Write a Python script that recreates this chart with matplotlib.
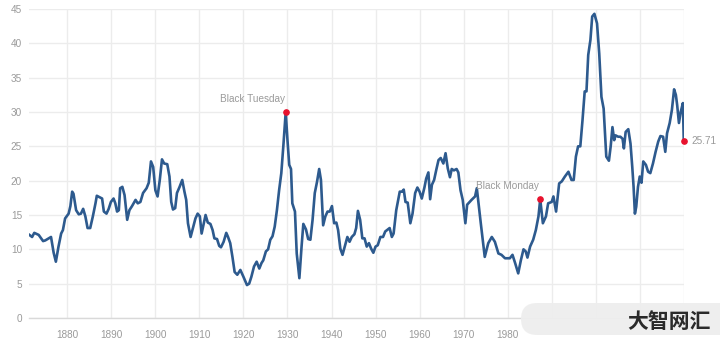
import matplotlib.pyplot as plt
from matplotlib.patches import FancyBboxPatch

# Shiller PE (CAPE)
years = [1871.4, 1872.0, 1872.5, 1873.5, 1874.5, 1875.0, 1875.8, 1876.3, 1876.9, 1877.4,
         1878.0, 1878.6, 1879.0, 1879.5, 1880.3, 1880.7, 1881.1, 1881.4, 1882.0, 1882.6,
         1883.1, 1883.6, 1884.1, 1884.6, 1885.2, 1885.8, 1886.4, 1886.7, 1887.3, 1887.9,
         1888.3, 1888.9, 1889.4, 1889.9, 1890.5, 1890.9, 1891.3, 1891.7, 1892.0, 1892.5,
         1893.0, 1893.6, 1894.1, 1894.7, 1895.5, 1896.0, 1896.6, 1897.2, 1898.0, 1898.5,
         1899.0, 1899.5, 1900.0, 1900.5, 1901.0, 1901.5, 1902.0, 1902.7, 1903.2, 1903.6,
         1904.0, 1904.5, 1904.9, 1905.5, 1906.1, 1906.6, 1907.0, 1907.4, 1908.0, 1908.6,
         1909.1, 1909.6, 1910.1, 1910.5, 1911.0, 1911.4, 1911.9, 1912.5, 1913.0, 1913.4,
         1914.0, 1914.5, 1914.9, 1915.5, 1916.1, 1916.5, 1917.0, 1917.5, 1918.0, 1918.6,
         1919.3, 1920.0, 1920.8, 1921.3, 1921.8, 1922.4, 1923.0, 1923.6, 1924.1, 1924.5,
         1925.1, 1925.6, 1926.1, 1926.6, 1927.1, 1927.6, 1928.1, 1928.6, 1929.1, 1929.6,
         1930.0, 1930.4, 1930.8, 1931.1, 1931.7, 1932.1, 1932.7, 1933.2, 1933.6, 1934.2,
         1934.7, 1935.2, 1935.7, 1936.2, 1936.7, 1937.2, 1937.6, 1938.1, 1938.6, 1939.1,
         1939.6, 1940.1, 1940.6, 1941.1, 1941.5, 1942.0, 1942.5, 1943.0, 1943.6, 1944.1,
         1944.6, 1945.2, 1945.6, 1946.0, 1946.5, 1947.0, 1947.5, 1948.0, 1948.5, 1949.0,
         1949.5, 1950.0, 1950.5, 1951.1, 1951.7, 1952.2, 1952.8, 1953.2, 1953.7, 1954.1,
         1954.7, 1955.5, 1956.0, 1956.4, 1956.8, 1957.3, 1957.9, 1958.4, 1959.0, 1959.5,
         1960.0, 1960.5, 1961.1, 1961.5, 1962.0, 1962.4, 1962.8, 1963.3, 1963.8, 1964.3,
         1964.8, 1965.4, 1965.9, 1966.4, 1966.9, 1967.3, 1967.8, 1968.4, 1968.8, 1969.3,
         1969.8, 1970.4, 1970.8, 1971.8, 1972.6, 1973.0, 1973.9, 1974.8, 1975.6, 1976.4,
         1977.1, 1977.9, 1978.6, 1979.4, 1980.5, 1981.1, 1981.7, 1982.4, 1983.0, 1983.6,
         1984.1, 1984.5, 1985.1, 1985.8, 1986.4, 1987.0, 1987.4, 1988.0, 1988.7, 1989.2,
         1990.0, 1990.4, 1991.0, 1991.7, 1992.3, 1993.0, 1993.8, 1994.5, 1995.0, 1995.5,
         1996.0, 1996.5, 1997.0, 1997.5, 1997.9, 1998.3, 1998.8, 1999.2, 1999.7, 2000.3,
         2000.8, 2001.3, 2001.8, 2002.2, 2002.4, 2003.0, 2003.4, 2003.8, 2004.2, 2004.5,
         2005.1, 2005.6, 2006.1, 2006.4, 2006.8, 2007.4, 2007.9, 2008.3, 2008.6, 2008.9,
         2009.2, 2009.6, 2010.0, 2010.4, 2010.8, 2011.4, 2011.9, 2012.4, 2013.0, 2013.6,
         2014.2, 2014.7, 2015.3, 2015.8, 2016.2, 2016.8, 2017.3, 2017.8, 2018.2, 2018.5,
         2018.9, 2019.3, 2019.8, 2020.0]

pe = [12.1, 11.8, 12.4, 12.1, 11.2, 11.3, 11.6, 11.8, 9.5, 8.2,
      10.4, 12.3, 12.8, 14.5, 15.2, 16.3, 18.4, 18.1, 15.7, 15.1,
      15.2, 15.9, 14.8, 13.1, 13.1, 14.8, 16.7, 17.8, 17.6, 17.4,
      15.5, 15.2, 15.9, 16.9, 17.4, 16.7, 15.5, 15.7, 18.9, 19.1,
      17.9, 14.3, 15.7, 16.3, 17.2, 16.7, 16.9, 18.2, 18.9, 19.7,
      22.8, 22.0, 18.6, 17.7, 20.1, 23.1, 22.5, 22.4, 20.6, 16.9,
      15.8, 16.0, 18.2, 19.1, 20.1, 18.4, 17.2, 13.8, 11.8, 13.3,
      14.5, 15.2, 14.8, 12.3, 13.8, 15.0, 13.9, 13.7, 12.8, 11.6,
      11.5, 10.5, 10.3, 11.1, 12.4, 11.8, 10.9, 8.9, 6.7, 6.3,
      7.0, 6.0, 4.8, 5.0, 6.0, 7.5, 8.2, 7.2, 8.0, 8.4,
      9.7, 10.0, 11.4, 11.9, 13.3, 15.7, 18.6, 21.1, 25.4, 30.0,
      25.9, 22.3, 21.7, 16.7, 15.5, 9.4, 5.8, 10.4, 13.7, 12.9,
      11.5, 11.4, 14.3, 18.2, 19.8, 21.7, 20.1, 13.5, 14.8, 15.5,
      15.5, 16.3, 13.8, 13.9, 12.8, 10.1, 9.2, 10.4, 11.8, 11.1,
      11.8, 12.2, 13.1, 15.6, 14.3, 11.6, 11.6, 10.4, 10.9, 10.1,
      9.5, 10.4, 10.6, 11.8, 11.8, 12.6, 12.9, 13.1, 11.8, 12.3,
      15.7, 18.4, 18.4, 18.7, 16.9, 16.8, 13.8, 15.2, 18.2, 19.0,
      18.4, 17.4, 19.0, 20.3, 21.2, 17.3, 19.4, 20.1, 21.6, 23.0,
      23.3, 22.5, 24.0, 21.8, 20.5, 21.7, 21.5, 21.7, 21.2, 18.6,
      17.2, 13.8, 16.5, 17.2, 17.7, 18.9, 13.8, 8.9, 10.9, 11.8,
      11.1, 9.4, 9.2, 8.7, 8.7, 9.2, 8.0, 6.5, 8.4, 10.0,
      9.7, 8.8, 10.4, 11.4, 12.8, 14.8, 17.3, 13.8, 14.8, 16.7,
      16.9, 17.7, 15.5, 19.6, 19.9, 20.6, 21.3, 20.1, 20.1, 23.5,
      25.0, 25.0, 28.8, 33.0, 33.0, 38.3, 40.5, 43.9, 44.3, 42.9,
      38.5, 32.2, 30.5, 25.9, 23.5, 22.9, 25.0, 27.8, 25.9, 26.6,
      26.4, 26.4, 26.1, 24.7, 27.1, 27.5, 25.4, 22.0, 19.1, 15.2,
      16.2, 19.1, 20.6, 19.7, 22.8, 22.3, 21.3, 21.1, 22.5, 24.2,
      25.7, 26.5, 26.4, 24.2, 26.9, 28.4, 30.3, 33.3, 32.5, 31.0,
      28.4, 30.0, 31.3, 25.71]

event_names = ['Black Tuesday', 'Black Monday']
event_years = [1929.6, 1987.4]

x_ticks = [1880, 1890, 1900, 1910, 1920, 1930, 1940, 1950, 1960, 1970, 1980, 1990, 2000, 2010, 2020]
x_labels = ['1880', '1890', '1900', '1910', '1920', '1930', '1940', '1950', '1960', '1970', '1980', '', '', '', '']
y_ticks = [0, 5, 10, 15, 20, 25, 30, 35, 40, 45]

plt.rcParams['font.family'] = ['Liberation Sans', 'DejaVu Sans']

fig = plt.figure(figsize=(7.2, 3.51), dpi=100)
ax = fig.add_axes([29 / 720, 1 - 318 / 351, (684 - 29) / 720, (318 - 9) / 351])

ax.plot(years, pe, color='#2d5a8e', linewidth=1.9, solid_joinstyle='round', zorder=3)

# marcadores dos eventos
for name, yr in zip(event_names, event_years):
    v = pe[years.index(yr)]
    ax.plot(yr, v, 'o', color='#e8112d', markersize=3.8, zorder=4)
    ax.annotate(name, (yr, v), xytext=(-1, 13), textcoords='offset pixels',
                ha='right', va='center', fontsize=7.2, color='#9a9a9a')

# último valor
ax.plot(years[-1], pe[-1], 'o', color='#e8112d', markersize=3.8, zorder=4, clip_on=False)
ax.annotate('%.2f' % pe[-1], (years[-1], pe[-1]), xytext=(8, 0), textcoords='offset pixels',
            ha='left', va='center', fontsize=7.2, color='#9a9a9a', annotation_clip=False)

ax.set_xlim(1871.3, 2020.05)
ax.set_ylim(0, 45)
ax.set_xticks(x_ticks)
ax.set_xticklabels(x_labels)
ax.set_yticks(y_ticks)
ax.tick_params(length=0, labelsize=7.2, labelcolor='#9a9a9a')
ax.tick_params(axis='y', pad=5)
ax.tick_params(axis='x', pad=9)
ax.grid(True, color='#ececec', linewidth=1.0, zorder=0)
for s in ['top', 'right', 'left']:
    ax.spines[s].set_visible(False)
ax.spines['bottom'].set_color('#d9d9d9')
ax.spines['bottom'].set_linewidth(1.0)

# marca d'água (coordenadas em pixels)
box = FancyBboxPatch((521, 351 - 335), 230, 32,
                     boxstyle='round,pad=0,rounding_size=16', transform=None,
                     facecolor='#eeeeee', edgecolor='none', alpha=0.95, zorder=5)
fig.patches.append(box)
fig.text(669 / 720, 1 - 322 / 351, '大智网汇', ha='center', va='center', fontsize=15,
         fontweight='bold', color='#2a2a2a', family=['Noto Sans CJK SC', 'DejaVu Sans'], zorder=6)

fig.savefig('out.png', dpi=100)
